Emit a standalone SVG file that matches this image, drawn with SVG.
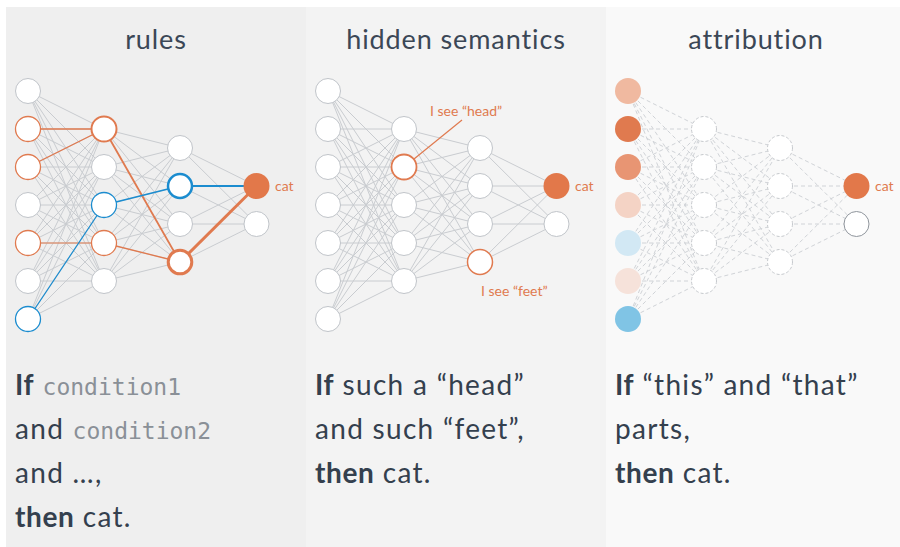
<svg xmlns="http://www.w3.org/2000/svg" xmlns:xlink="http://www.w3.org/1999/xlink" width="900" height="547" viewBox="0 0 900 547">
<style>
.title{font-family:Lato,"Open Sans",sans-serif;font-size:27px;fill:#3b4756;text-anchor:middle;letter-spacing:0.9px}
.body{font-family:Lato,"Open Sans",sans-serif;font-size:28px;fill:#34404e;letter-spacing:1.3px}
.b{font-weight:bold;letter-spacing:0.6px}
.mono{font-family:"DejaVu Sans Mono",monospace;font-size:23px;fill:#8a9097;letter-spacing:0}
.lbl{font-family:Lato,"Open Sans",sans-serif;font-size:14px;fill:#e07a4f}
.n{fill:#fff;stroke:#c0c4c9;stroke-width:1}
.nd{fill:#fff;stroke:#c6c9cd;stroke-width:1;stroke-dasharray:3 2}
.or{fill:#fff;stroke:#e07a4f;stroke-width:1.3}
.bl{fill:#fff;stroke:#1b8ccf;stroke-width:1.3}
.cat{fill:#e2784a;stroke:none}
.eo{stroke:#e07a4f;fill:none}
.eb{stroke:#1b8ccf;fill:none}
</style>
<defs>
<g id="edges">
<line x1="28" y1="91" x2="104" y2="129"/><line x1="28" y1="91" x2="104" y2="167"/><line x1="28" y1="91" x2="104" y2="205"/><line x1="28" y1="91" x2="104" y2="243"/><line x1="28" y1="91" x2="104" y2="281"/>
<line x1="28" y1="129" x2="104" y2="129"/><line x1="28" y1="129" x2="104" y2="167"/><line x1="28" y1="129" x2="104" y2="205"/><line x1="28" y1="129" x2="104" y2="243"/><line x1="28" y1="129" x2="104" y2="281"/>
<line x1="28" y1="167" x2="104" y2="129"/><line x1="28" y1="167" x2="104" y2="167"/><line x1="28" y1="167" x2="104" y2="205"/><line x1="28" y1="167" x2="104" y2="243"/><line x1="28" y1="167" x2="104" y2="281"/>
<line x1="28" y1="205" x2="104" y2="129"/><line x1="28" y1="205" x2="104" y2="167"/><line x1="28" y1="205" x2="104" y2="205"/><line x1="28" y1="205" x2="104" y2="243"/><line x1="28" y1="205" x2="104" y2="281"/>
<line x1="28" y1="243" x2="104" y2="129"/><line x1="28" y1="243" x2="104" y2="167"/><line x1="28" y1="243" x2="104" y2="205"/><line x1="28" y1="243" x2="104" y2="243"/><line x1="28" y1="243" x2="104" y2="281"/>
<line x1="28" y1="281" x2="104" y2="129"/><line x1="28" y1="281" x2="104" y2="167"/><line x1="28" y1="281" x2="104" y2="205"/><line x1="28" y1="281" x2="104" y2="243"/><line x1="28" y1="281" x2="104" y2="281"/>
<line x1="28" y1="319" x2="104" y2="129"/><line x1="28" y1="319" x2="104" y2="167"/><line x1="28" y1="319" x2="104" y2="205"/><line x1="28" y1="319" x2="104" y2="243"/><line x1="28" y1="319" x2="104" y2="281"/>
<line x1="104" y1="129" x2="180" y2="148"/><line x1="104" y1="129" x2="180" y2="186"/><line x1="104" y1="129" x2="180" y2="224"/><line x1="104" y1="129" x2="180" y2="262"/>
<line x1="104" y1="167" x2="180" y2="148"/><line x1="104" y1="167" x2="180" y2="186"/><line x1="104" y1="167" x2="180" y2="224"/><line x1="104" y1="167" x2="180" y2="262"/>
<line x1="104" y1="205" x2="180" y2="148"/><line x1="104" y1="205" x2="180" y2="186"/><line x1="104" y1="205" x2="180" y2="224"/><line x1="104" y1="205" x2="180" y2="262"/>
<line x1="104" y1="243" x2="180" y2="148"/><line x1="104" y1="243" x2="180" y2="186"/><line x1="104" y1="243" x2="180" y2="224"/><line x1="104" y1="243" x2="180" y2="262"/>
<line x1="104" y1="281" x2="180" y2="148"/><line x1="104" y1="281" x2="180" y2="186"/><line x1="104" y1="281" x2="180" y2="224"/><line x1="104" y1="281" x2="180" y2="262"/>
<line x1="180" y1="148" x2="256.5" y2="186"/><line x1="180" y1="148" x2="256.5" y2="224"/>
<line x1="180" y1="186" x2="256.5" y2="186"/><line x1="180" y1="186" x2="256.5" y2="224"/>
<line x1="180" y1="224" x2="256.5" y2="186"/><line x1="180" y1="224" x2="256.5" y2="224"/>
<line x1="180" y1="262" x2="256.5" y2="186"/><line x1="180" y1="262" x2="256.5" y2="224"/>
</g>
</defs>
<rect x="0" y="0" width="900" height="547" fill="#ffffff"/>
<rect x="6" y="7" width="300" height="540" fill="#efefef"/>
<rect x="306" y="7" width="300" height="540" fill="#f3f3f3"/>
<rect x="606" y="7" width="294" height="540" fill="#f9f9f9"/>

<text class="title" x="156" y="49">rules</text>
<text class="title" x="456" y="49">hidden semantics</text>
<text class="title" x="756" y="49">attribution</text>

<g id="connectors">
<use xlink:href="#edges" href="#edges" stroke="#c9ccd0" stroke-width="1"/>
<use xlink:href="#edges" href="#edges" transform="translate(300,0)" stroke="#c9ccd0" stroke-width="1"/>
<use xlink:href="#edges" href="#edges" transform="translate(600,0)" stroke="#d0d3d7" stroke-width="1" stroke-dasharray="4 3"/>
<line class="eo" stroke-width="1.3" x1="28" y1="129" x2="104" y2="129"/>
<line class="eo" stroke-width="1.3" x1="28" y1="167" x2="104" y2="129"/>
<line class="eo" stroke-width="1" x1="28" y1="243" x2="104" y2="243"/>
<line class="eb" stroke-width="1.2" x1="28" y1="319" x2="104" y2="205"/>
<line class="eo" stroke-width="1.8" x1="104" y1="129" x2="180" y2="262"/>
<line class="eo" stroke-width="1.3" x1="104" y1="243" x2="180" y2="262"/>
<line class="eb" stroke-width="1.3" x1="104" y1="205" x2="180" y2="186"/>
<line class="eb" stroke-width="2" x1="180" y1="186" x2="256.5" y2="186"/>
<line class="eo" stroke-width="3" x1="180" y1="262" x2="256.5" y2="186"/>
<line class="eo" stroke-width="1.2" x1="462" y1="120" x2="414" y2="159"/>
</g>

<g id="p1-in1"><circle class="n" cx="28" cy="91" r="12.5"/></g>
<g id="p1-in2"><circle class="or" cx="28" cy="129" r="12.5"/></g>
<g id="p1-in3"><circle class="or" cx="28" cy="167" r="12.5"/></g>
<g id="p1-in4"><circle class="n" cx="28" cy="205" r="12.5"/></g>
<g id="p1-in5"><circle class="or" cx="28" cy="243" r="12.5"/></g>
<g id="p1-in6"><circle class="n" cx="28" cy="281" r="12.5"/></g>
<g id="p1-in7"><circle class="bl" cx="28" cy="319" r="12.5"/></g>
<g id="p1-h1"><circle class="or" style="stroke-width:2" cx="104" cy="129" r="12.5"/></g>
<g id="p1-h2"><circle class="n" cx="104" cy="167" r="12.5"/></g>
<g id="p1-h3"><circle class="bl" cx="104" cy="205" r="12.5"/></g>
<g id="p1-h4"><circle class="or" cx="104" cy="243" r="12.5"/></g>
<g id="p1-h5"><circle class="n" cx="104" cy="281" r="12.5"/></g>
<g id="p1-g1"><circle class="n" cx="180" cy="148" r="12.5"/></g>
<g id="p1-g2"><circle class="bl" style="stroke-width:2.5" cx="180" cy="186" r="12"/></g>
<g id="p1-g3"><circle class="n" cx="180" cy="224" r="12.5"/></g>
<g id="p1-g4"><circle class="or" style="stroke-width:3" cx="180" cy="262" r="11.8"/></g>
<g id="p1-out1"><circle class="cat" cx="256.5" cy="186" r="13"/><text class="lbl" x="275" y="191">cat</text></g>
<g id="p1-out2"><circle class="n" cx="256.5" cy="224" r="12.5"/></g>

<g id="p2-in1"><circle class="n" cx="328" cy="91" r="12.5"/></g>
<g id="p2-in2"><circle class="n" cx="328" cy="129" r="12.5"/></g>
<g id="p2-in3"><circle class="n" cx="328" cy="167" r="12.5"/></g>
<g id="p2-in4"><circle class="n" cx="328" cy="205" r="12.5"/></g>
<g id="p2-in5"><circle class="n" cx="328" cy="243" r="12.5"/></g>
<g id="p2-in6"><circle class="n" cx="328" cy="281" r="12.5"/></g>
<g id="p2-in7"><circle class="n" cx="328" cy="319" r="12.5"/></g>
<g id="p2-h1"><circle class="n" cx="404" cy="129" r="12.5"/></g>
<g id="p2-h2"><circle class="or" style="stroke-width:1.8" cx="404" cy="167" r="12.5"/><text class="lbl" x="430" y="116">I see “head”</text></g>
<g id="p2-h3"><circle class="n" cx="404" cy="205" r="12.5"/></g>
<g id="p2-h4"><circle class="n" cx="404" cy="243" r="12.5"/></g>
<g id="p2-h5"><circle class="n" cx="404" cy="281" r="12.5"/></g>
<g id="p2-g1"><circle class="n" cx="480" cy="148" r="12.5"/></g>
<g id="p2-g2"><circle class="n" cx="480" cy="186" r="12.5"/></g>
<g id="p2-g3"><circle class="n" cx="480" cy="224" r="12.5"/></g>
<g id="p2-g4"><circle class="or" style="stroke-width:1.5" cx="480" cy="262" r="12.5"/><text class="lbl" x="481" y="296">I see “feet”</text></g>
<g id="p2-out1"><circle class="cat" cx="556.5" cy="186" r="13"/><text class="lbl" x="575" y="191">cat</text></g>
<g id="p2-out2"><circle class="n" cx="556.5" cy="224" r="12.5"/></g>

<g id="p3-in1"><circle fill="#f0b9a0" cx="628" cy="91" r="13"/></g>
<g id="p3-in2"><circle fill="#e07a4f" cx="628" cy="129" r="13"/></g>
<g id="p3-in3"><circle fill="#e89573" cx="628" cy="167" r="13"/></g>
<g id="p3-in4"><circle fill="#f4d3c5" cx="628" cy="205" r="13"/></g>
<g id="p3-in5"><circle fill="#d2e8f4" cx="628" cy="243" r="13"/></g>
<g id="p3-in6"><circle fill="#f6e2da" cx="628" cy="281" r="13"/></g>
<g id="p3-in7"><circle fill="#80c4e5" cx="628" cy="319" r="13"/></g>
<g id="p3-h1"><circle class="nd" cx="704" cy="129" r="12.5"/></g>
<g id="p3-h2"><circle class="nd" cx="704" cy="167" r="12.5"/></g>
<g id="p3-h3"><circle class="nd" cx="704" cy="205" r="12.5"/></g>
<g id="p3-h4"><circle class="nd" cx="704" cy="243" r="12.5"/></g>
<g id="p3-h5"><circle class="nd" cx="704" cy="281" r="12.5"/></g>
<g id="p3-g1"><circle class="nd" cx="780" cy="148" r="12.5"/></g>
<g id="p3-g2"><circle class="nd" cx="780" cy="186" r="12.5"/></g>
<g id="p3-g3"><circle class="nd" cx="780" cy="224" r="12.5"/></g>
<g id="p3-g4"><circle class="nd" cx="780" cy="262" r="12.5"/></g>
<g id="p3-out1"><circle class="cat" cx="856.5" cy="186" r="13"/><text class="lbl" x="875" y="191">cat</text></g>
<g id="p3-out2"><circle fill="#fff" stroke="#8f959c" stroke-width="1" cx="856.5" cy="224" r="12.5"/></g>

<text class="body" x="15" y="395"><tspan class="b">If</tspan> <tspan class="mono">condition1</tspan></text>
<text class="body" x="15" y="439">and <tspan class="mono">condition2</tspan></text>
<text class="body" x="15" y="483">and …,</text>
<text class="body" x="15" y="527"><tspan class="b">then</tspan> cat.</text>

<text class="body" x="315" y="395"><tspan class="b">If</tspan> such a “head”</text>
<text class="body" x="315" y="439">and such “feet”,</text>
<text class="body" x="315" y="483"><tspan class="b">then</tspan> cat.</text>

<text class="body" x="615" y="395"><tspan class="b">If</tspan> “this” and “that”</text>
<text class="body" x="615" y="439">parts,</text>
<text class="body" x="615" y="483"><tspan class="b">then</tspan> cat.</text>
</svg>
